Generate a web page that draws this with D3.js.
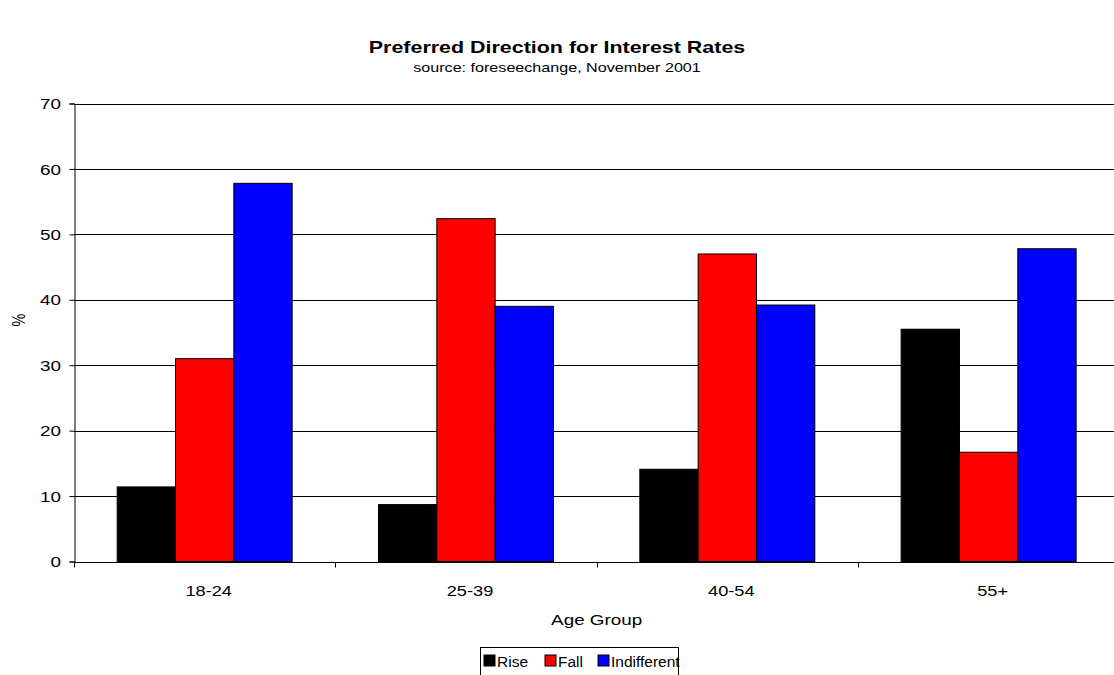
<!DOCTYPE html>
<html>
<head>
<meta charset="utf-8">
<script src="https://cdn.jsdelivr.net/npm/d3@7"></script>
<style>
  html, body { margin: 0; padding: 0; background: #fff; }
  svg { display: block; font-family: "Liberation Sans", Arial, sans-serif; }
</style>
</head>
<body>
<svg id="chart" width="1114" height="675"></svg>
<script>
// Age groups and survey shares (%)
const categories = ["18-24", "25-39", "40-54", "55+"];
const seriesNames = ["Rise", "Fall", "Indifferent"];
const rise = [11.4, 8.7, 14.1, 35.5];
const fall = [31.0, 52.4, 47.0, 16.7];
const indifferent = [57.8, 39.0, 39.2, 47.8];
const yTicks = [0, 10, 20, 30, 40, 50, 60, 70];
const colors = ["#000000", "#ff0000", "#0000ff"];

const seriesValues = [rise, fall, indifferent];
const rows = categories.map((c, i) => ({
  category: c,
  values: seriesNames.map((s, j) => ({ series: s, value: seriesValues[j][i], color: colors[j] }))
}));

// Axis and title lettering is wide: glyphs are stretched horizontally
const SX = 1.3;
const wide = (x, y) => `translate(${x},${y}) scale(${SX},1)`;

const svg = d3.select("#chart");
const plot = { left: 74, right: 1119.3, top: 103.5, bottom: 561.5 };

const x0 = d3.scaleBand().domain(categories).range([plot.left, plot.right]).paddingInner(0).paddingOuter(0);
const x1 = d3.scaleBand().domain(seriesNames).range([0, x0.bandwidth()]).paddingInner(0).paddingOuter(0.74);
const y = d3.scaleLinear().domain([0, 70]).range([plot.bottom, plot.top]);

// Horizontal gridlines
svg.append("g")
  .selectAll("line")
  .data(yTicks.filter(t => t > 0))
  .join("line")
  .attr("x1", plot.left).attr("x2", plot.right)
  .attr("y1", d => Math.round(y(d)) + 0.5).attr("y2", d => Math.round(y(d)) + 0.5)
  .attr("stroke", "#000").attr("stroke-width", 1);

// Bars
const groups = svg.append("g")
  .selectAll("g")
  .data(rows)
  .join("g")
  .attr("transform", d => `translate(${x0(d.category)},0)`);

groups.selectAll("rect")
  .data(d => d.values)
  .join("rect")
  .attr("x", d => x1(d.series))
  .attr("y", d => y(d.value))
  .attr("width", x1.bandwidth())
  .attr("height", d => y(0) - y(d.value))
  .attr("fill", d => d.color)
  .attr("stroke", "#000")
  .attr("stroke-width", 1);

// Y axis
const yAxis = d3.axisLeft(y).tickValues(yTicks).tickSize(5).tickFormat(d3.format("d"));
const gy = svg.append("g")
  .attr("transform", `translate(${plot.left + 0.5},0)`)
  .call(yAxis);
gy.attr("font-family", null).attr("font-size", null);
gy.select(".domain").attr("stroke", "#000");
gy.selectAll(".tick line").attr("stroke", "#000");
gy.selectAll(".tick text")
  .attr("x", 0).attr("dy", "0.35em")
  .attr("transform", wide(-13.5, 0))
  .attr("font-size", 14.5).attr("fill", "#000");

// X axis: ticks at category boundaries
const gx = svg.append("g")
  .attr("transform", `translate(0,${Math.round(plot.bottom) + 0.5})`);
gx.append("line")
  .attr("x1", plot.left).attr("x2", plot.right)
  .attr("stroke", "#000");
gx.selectAll("line.tick")
  .data(categories)
  .join("line")
  .attr("class", "tick")
  .attr("x1", d => Math.round(x0(d)) + 0.5).attr("x2", d => Math.round(x0(d)) + 0.5)
  .attr("y1", 0).attr("y2", 5)
  .attr("stroke", "#000");
gx.selectAll("text")
  .data(categories)
  .join("text")
  .attr("transform", d => wide(x0(d) + x0.bandwidth() / 2 + 4, 33))
  .attr("text-anchor", "middle")
  .attr("font-size", 14)
  .text(d => d);

// Titles
svg.append("text")
  .attr("transform", wide(557, 53))
  .attr("text-anchor", "middle")
  .attr("font-size", 16.5).attr("font-weight", "bold")
  .text("Preferred Direction for Interest Rates");
svg.append("text")
  .attr("transform", wide(557, 72))
  .attr("text-anchor", "middle")
  .attr("font-size", 12.4)
  .text("source: foreseechange, November 2001");

svg.append("text")
  .attr("transform", wide((plot.left + plot.right) / 2, 625))
  .attr("text-anchor", "middle")
  .attr("font-size", 14.5)
  .text("Age Group");

svg.append("text")
  .attr("transform", "translate(25,320) rotate(-90) scale(1,1.3)")
  .attr("text-anchor", "middle")
  .attr("font-size", 14.5)
  .text("%");

// Legend
const legend = svg.append("g").attr("transform", "translate(480.5,647.5)");
legend.append("rect")
  .attr("x", 0).attr("y", 0).attr("width", 198).attr("height", 35)
  .attr("fill", "#fff").attr("stroke", "#000");
const legendX = [3.5, 64.5, 117.5];
const items = legend.selectAll("g.item")
  .data(seriesNames)
  .join("g")
  .attr("class", "item")
  .attr("transform", (d, i) => `translate(${legendX[i]},0)`);
items.append("rect")
  .attr("x", 0).attr("y", 7.5).attr("width", 11).attr("height", 11)
  .attr("fill", (d, i) => colors[i]).attr("stroke", "#000");
items.append("text")
  .attr("x", 13).attr("y", 19.5)
  .attr("font-size", 15.5)
  .text(d => d);
</script>
</body>
</html>
